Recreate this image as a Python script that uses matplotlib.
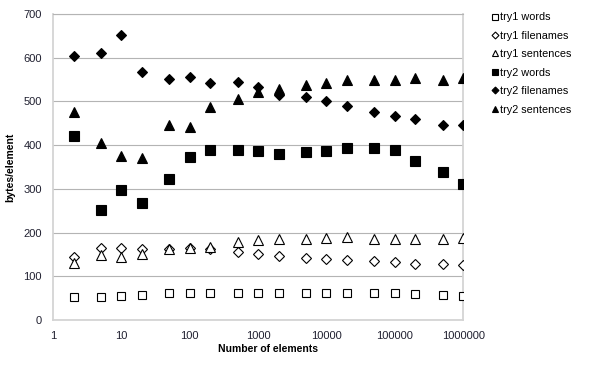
import matplotlib
matplotlib.use("Agg")
import matplotlib.pyplot as plt
from matplotlib.ticker import FixedLocator, NullLocator

plt.rcParams['font.family'] = ['Liberation Sans', 'DejaVu Sans']

n_elements = [2, 5, 10, 20, 50, 100, 200, 500, 1000, 2000, 5000, 10000,
              20000, 50000, 100000, 200000, 500000, 1000000]

try1_words = [52, 52, 54, 57, 61, 62, 62, 62, 62, 61, 61, 61, 61, 61, 61, 59, 57, 54]
try1_filenames = [143, 164, 164, 162, 163, 165, 162, 155, 151, 146, 141, 140, 137, 134, 133, 129, 127, 125]
try1_sentences = [131, 149, 143, 151, 162, 164, 166, 179, 182, 185, 185, 188, 189, 186, 186, 185, 186, 187]
try2_words = [422, 251, 297, 268, 322, 372, 389, 390, 387, 379, 385, 387, 393, 393, 389, 364, 339, 312]
try2_filenames = [603, 610, 651, 567, 551, 557, 542, 545, 532, 514, 510, 502, 490, 476, 467, 460, 446, 445]
try2_sentences = [475, 406, 376, 370, 446, 441, 487, 506, 522, 529, 537, 543, 548, 549, 549, 553, 549, 554]

series = [
    ("try1 words", try1_words, 's', 'white', 6.0),
    ("try1 filenames", try1_filenames, 'D', 'white', 5.0),
    ("try1 sentences", try1_sentences, '^', 'white', 6.5),
    ("try2 words", try2_words, 's', 'black', 6.5),
    ("try2 filenames", try2_filenames, 'D', 'black', 5.0),
    ("try2 sentences", try2_sentences, '^', 'black', 6.5),
]

fig = plt.figure(figsize=(6.0, 3.66), dpi=100)
ax = fig.add_axes([0.0883, 0.1257, 0.772 - 0.0883, 0.9617 - 0.1257])

handles = []
for label, vals, mk, fc, ms in series:
    h, = ax.plot(n_elements, vals, linestyle='none', marker=mk, markersize=ms,
                 markerfacecolor=fc, markeredgecolor='black', markeredgewidth=0.8,
                 label=label, zorder=3)
    handles.append(h)

ax.set_xscale('log')
ax.set_xlim(1, 1000000)
ax.set_ylim(0, 700)
ax.xaxis.set_major_locator(FixedLocator([1, 10, 100, 1000, 10000, 100000, 1000000]))
ax.xaxis.set_minor_locator(NullLocator())
ax.set_xticklabels(['1', '10', '100', '1000', '10000', '100000', '1000000'])
ax.set_yticks(range(0, 701, 100))
ax.grid(axis='y', color='#b4b4b4', linewidth=0.8, zorder=0)
ax.set_axisbelow(True)

for s in ax.spines.values():
    s.set_color('#d4d4d4')
    s.set_linewidth(1.3)
ax.spines['top'].set_color('#b4b4b4')
ax.spines['top'].set_linewidth(0.8)

ax.tick_params(axis='both', length=0, labelsize=8, labelcolor='#202030')
ax.tick_params(axis='y', pad=8)
ax.tick_params(axis='x', pad=8)

ax.set_xlabel('Number of elements', fontsize=7.5, fontweight='bold', labelpad=3)
ax.xaxis.set_label_coords(0.523, -0.078)
ax.set_ylabel('bytes/element', fontsize=7.5, fontweight='bold', labelpad=6)

leg = fig.legend(handles=handles, loc='upper left', bbox_to_anchor=(0.812, 0.978),
                 frameon=False, fontsize=7.8, handlelength=0.6, handletextpad=0.15,
                 labelspacing=0.78, markerscale=0.7, borderaxespad=0)

fig.savefig('out.png', dpi=100)
